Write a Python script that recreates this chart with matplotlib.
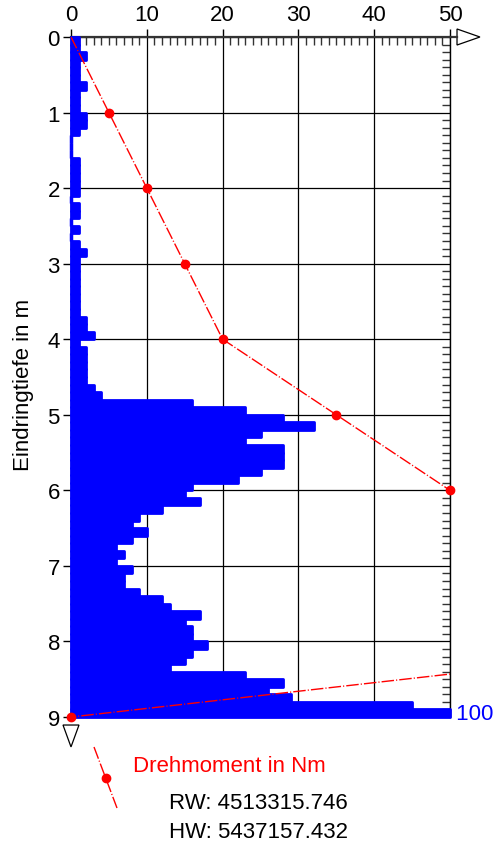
import numpy as np
import matplotlib
matplotlib.use("Agg")
import matplotlib.pyplot as plt
from matplotlib.patches import Polygon

plt.rcParams['font.family'] = ['Liberation Sans', 'DejaVu Sans']

# Schlagzahlen je 10 cm (Oberkante der Schicht in m)
depth_top = np.round(np.arange(0.0, 9.0, 0.1), 1)
blows = [1, 1, 2, 1, 1, 1, 2, 1, 1, 1,
         2, 2, 1, 0, 0, 0, 1, 1, 1, 1,
         1, 0, 1, 1, 0, 1, 0, 1, 2, 1,
         1, 1, 1, 1, 1, 1, 1, 2, 2, 3,
         1, 2, 2, 2, 2, 2, 3, 4, 16, 23,
         28, 32, 25, 23, 28, 28, 28, 25, 22, 16,
         15, 17, 12, 9, 8, 10, 8, 6, 7, 6,
         8, 7, 7, 9, 12, 13, 17, 15, 16, 16,
         18, 16, 15, 13, 23, 28, 26, 29, 45, 100]

# Drehmoment je Meter
torque_depth = [1, 2, 3, 4, 5, 6, 7, 8, 9]
torque = [5, 10, 15, 20, 35, 50, 70, 88, 0]

x_max = 50
rw_text = "RW: 4513315.746"
hw_text = "HW: 5437157.432"

fs = 16
dash = (9, 1.5, 0.8, 1.5)

W, H = 499, 845
fig = plt.figure(figsize=(W / 100, H / 100), dpi=100)
ax = fig.add_axes([71 / W, 1 - 718 / H, (450 - 71) / W, (718 - 38) / H])

blows = np.array(blows)
shown = np.minimum(blows, x_max)
bars = ax.barh(depth_top, shown, height=0.1, align='edge', color='#0000ff',
               edgecolor='#0000ff', linewidth=2, zorder=3, clip_on=False)
for b in bars:
    b.set_joinstyle('round')
for d, b in zip(depth_top, blows):
    if b > x_max:
        ax.text(x_max, d + 0.05, ' ' + str(b), color='#0000ff', fontsize=fs,
                va='center', ha='left', clip_on=False)
# Nullwerte als senkrechter Strich an der Achse
zero = depth_top[blows == 0]
ax.vlines(np.zeros(len(zero)), zero, zero + 0.1, color='#0000ff', lw=2.5, zorder=3,
          clip_on=False)

# Drehmoment-Linie
line_x = [0] + torque
line_y = [0] + torque_depth
ax.plot(line_x, line_y, color='red', lw=1, dashes=dash, zorder=4)
mx = [t for t in torque if t <= x_max]
my = [d for t, d in zip(torque, torque_depth) if t <= x_max]
ax.plot(mx, my, 'o', color='red', ms=6, zorder=5, clip_on=False)

ax.set_xlim(0, x_max)
ax.set_ylim(9, 0)
ax.xaxis.tick_top()
ax.set_xticks(np.arange(0, 51, 10))
ax.set_xticks(np.arange(0, 51, 1), minor=True)
ax.set_yticks(np.arange(0, 10, 1))
ax.set_yticks(np.arange(0, 9.01, 0.1), minor=True)
ax.tick_params(axis='x', which='major', direction='out', length=6, width=1,
               labelsize=fs, pad=2.5, top=True, bottom=False)
ax.tick_params(axis='x', which='minor', direction='in', length=5.5, width=1,
               top=True, bottom=False, color='#333333')
ax.tick_params(axis='y', which='major', direction='out', length=5.5, width=1,
               labelsize=fs, pad=2.5, left=True, right=False)
ax.tick_params(axis='y', which='minor', direction='in', length=5.5, width=1,
               left=False, right=True, color='#333333')
ax.grid(True, which='major', color='black', lw=0.9, zorder=1)
ax.set_axisbelow(True)

ax.spines['bottom'].set_visible(False)
ax.spines['top'].set_linewidth(1.6)
ax.spines['top'].set_color('#333333')
ax.spines['left'].set_linewidth(1)
ax.spines['right'].set_linewidth(1)

# Pfeile an den Achsen
tr = ax.transAxes
ax.plot([1, 1.0185], [1, 1], color='#333333', lw=1.6, transform=tr, clip_on=False)
ax.add_patch(Polygon([[1.0185, 1.0118], [1.0185, 0.9882], [1.079, 1]], closed=True,
                     fill=False, edgecolor='black', lw=0.9, transform=tr, clip_on=False))
ax.add_patch(Polygon([[-0.0211, -0.0118], [0.0211, -0.0118], [0, -0.044]], closed=True,
                     fill=False, edgecolor='black', lw=0.9, transform=tr, clip_on=False))

fig.text(24 / W, 1 - 385 / H, 'Eindringtiefe in m', rotation=90, fontsize=fs,
         ha='center', va='center')

# Legende
fig.add_artist(plt.Line2D([94 / W, 117 / W], [1 - 748 / H, 1 - 809 / H], color='red',
                          lw=1, dashes=dash))
fig.add_artist(plt.Line2D([106 / W], [1 - 779 / H], marker='o', color='red', ms=6))
fig.text(133 / W, 1 - 772 / H, 'Drehmoment in Nm', color='red', fontsize=fs,
         ha='left', va='baseline')
fig.text(169 / W, 1 - 809 / H, rw_text, color='black', fontsize=fs, ha='left', va='baseline')
fig.text(169 / W, 1 - 838 / H, hw_text, color='black', fontsize=fs, ha='left', va='baseline')

fig.savefig('out.png', dpi=100)
